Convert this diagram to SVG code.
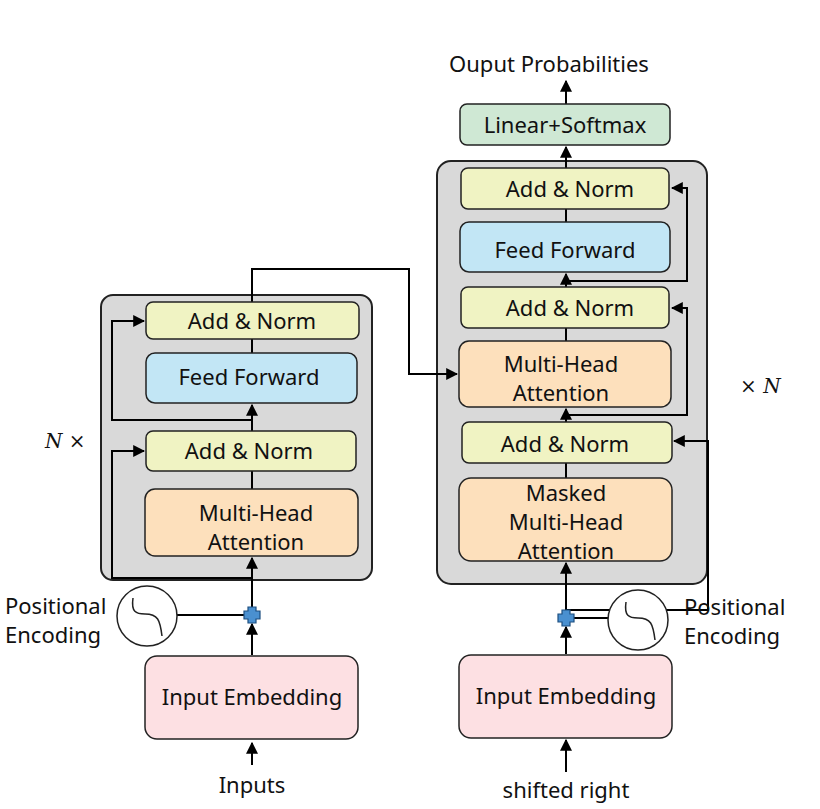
<svg xmlns="http://www.w3.org/2000/svg" width="820" height="809" viewBox="0 0 820 809">
<style>
text{font-family:"Noto Sans","Open Sans",sans-serif;font-size:22px;fill:#111}
.c{text-anchor:middle}
.b{stroke:#222;stroke-width:1.5}
.an{fill:#f0f3c3}.ff{fill:#c2e6f5}.mh{fill:#fde0bc}.ie{fill:#fde0e3}.ls{fill:#cfe8d4}
.g{fill:#d9d9d9;stroke:#222;stroke-width:2}
.l{fill:none;stroke:#000;stroke-width:2}
</style>
<defs><marker id="a" viewBox="0 0 10 10" refX="9" refY="5" markerWidth="6" markerHeight="6" orient="auto"><path d="M0,0L10,5L0,10z"/></marker></defs>
<rect width="820" height="809" fill="#fff"/>
<rect class="g" x="101" y="295" width="271" height="285" rx="12"/>
<rect class="g" x="437" y="161" width="270" height="423" rx="14"/>
<g id="connectors">
<path class="l" d="M252,765V743" marker-end="url(#a)"/>
<path class="l" d="M252,655V624" marker-end="url(#a)"/>
<path class="l" d="M252,607V558" marker-end="url(#a)"/>
<path class="l" d="M177,615H244"/>
<path class="l" d="M252,578H112V451H144" marker-end="url(#a)"/>
<path class="l" d="M252,431V405" marker-end="url(#a)"/>
<path class="l" d="M252,420H112V321H144" marker-end="url(#a)"/>
<path class="l" d="M252,471V489M252,339V353"/>
<path class="l" d="M252,302V269H409V374H457" marker-end="url(#a)"/>
<path class="l" d="M566,772V740" marker-end="url(#a)"/>
<path class="l" d="M566,654V627" marker-end="url(#a)"/>
<path class="l" d="M566,610V563" marker-end="url(#a)"/>
<path class="l" d="M574,618H608"/>
<path class="l" d="M566,610H708V441H674" marker-end="url(#a)"/>
<path class="l" d="M566,422V409" marker-end="url(#a)"/>
<path class="l" d="M566,415H687V308H672" marker-end="url(#a)"/>
<path class="l" d="M566,287V274" marker-end="url(#a)"/>
<path class="l" d="M566,281H687V188H672" marker-end="url(#a)"/>
<path class="l" d="M566,463V478M566,328V341M566,209V222"/>
<path class="l" d="M566,168V147" marker-end="url(#a)"/>
<path class="l" d="M566,104V81" marker-end="url(#a)"/>
</g>
<g id="enc_an2"><rect class="b an" x="146" y="302" width="213" height="37" rx="7"/><text class="c" x="252" y="329">Add &amp; Norm</text></g>
<g id="enc_ff"><rect class="b ff" x="146" y="353" width="211" height="50" rx="9"/><text class="c" x="249" y="385">Feed Forward</text></g>
<g id="enc_an1"><rect class="b an" x="146" y="431" width="210" height="40" rx="7"/><text class="c" x="249" y="459">Add &amp; Norm</text></g>
<g id="enc_mha"><rect class="b mh" x="145" y="489" width="213" height="67" rx="10"/><text class="c" x="256" y="521">Multi-Head</text><text class="c" x="256" y="550">Attention</text></g>
<g id="enc_ie"><rect class="b ie" x="145" y="656" width="213" height="83" rx="12"/><text class="c" x="252" y="705">Input Embedding</text></g>
<g id="enc_pe"><circle cx="147" cy="616" r="30" fill="#fff" stroke="#222" stroke-width="1.5"/><path d="M133,598C131,612 136,614 145,614C158,614 160,620 162,636" fill="none" stroke="#222" stroke-width="1.5"/></g>
<g id="enc_plus"><path d="M248,607h8v4h4v8h-4v4h-8v-4h-4v-8h4z" fill="#4a90d0" stroke="#1d4f80" stroke-width="1.2"/></g>
<g id="dec_ls"><rect class="b ls" x="460" y="104" width="210" height="41" rx="7"/><text class="c" x="565" y="133">Linear+Softmax</text></g>
<g id="dec_an3"><rect class="b an" x="461" y="168" width="208" height="41" rx="7"/><text class="c" x="570" y="197">Add &amp; Norm</text></g>
<g id="dec_ff"><rect class="b ff" x="460" y="222" width="210" height="50" rx="9"/><text class="c" x="565" y="258">Feed Forward</text></g>
<g id="dec_an2"><rect class="b an" x="461" y="287" width="208" height="41" rx="7"/><text class="c" x="570" y="316">Add &amp; Norm</text></g>
<g id="dec_mha"><rect class="b mh" x="459" y="341" width="212" height="66" rx="10"/><text class="c" x="561" y="372">Multi-Head</text><text class="c" x="561" y="401">Attention</text></g>
<g id="dec_an1"><rect class="b an" x="462" y="422" width="210" height="41" rx="7"/><text class="c" x="565" y="452">Add &amp; Norm</text></g>
<g id="dec_mmha"><rect class="b mh" x="459" y="478" width="213" height="83" rx="12"/><text class="c" x="566" y="501">Masked</text><text class="c" x="566" y="530">Multi-Head</text><text class="c" x="566" y="559">Attention</text></g>
<g id="dec_ie"><rect class="b ie" x="459" y="655" width="213" height="83" rx="12"/><text class="c" x="566" y="704">Input Embedding</text></g>
<g id="dec_pe"><circle cx="638" cy="620" r="30" fill="#fff" stroke="#222" stroke-width="1.5"/><path d="M626,602C624,616 629,618 638,618C651,618 653,624 655,640" fill="none" stroke="#222" stroke-width="1.5"/></g>
<g id="dec_plus"><path d="M562,610h8v4h4v8h-4v4h-8v-4h-4v-8h4z" fill="#4a90d0" stroke="#1d4f80" stroke-width="1.2"/></g>
<text class="c" x="549" y="72">Ouput Probabilities</text>
<text x="5" y="614">Positional</text><text x="5" y="643">Encoding</text>
<text x="684" y="615">Positional</text><text x="684" y="644">Encoding</text>
<text x="45" y="448" style="font-family:'DejaVu Serif',serif;font-size:20px"><tspan font-style="italic">N</tspan> ×</text>
<text x="740" y="393" style="font-family:'DejaVu Serif',serif;font-size:20px">× <tspan font-style="italic">N</tspan></text>
<text class="c" x="252" y="793">Inputs</text>
<text class="c" x="566" y="798">shifted right</text>
</svg>
